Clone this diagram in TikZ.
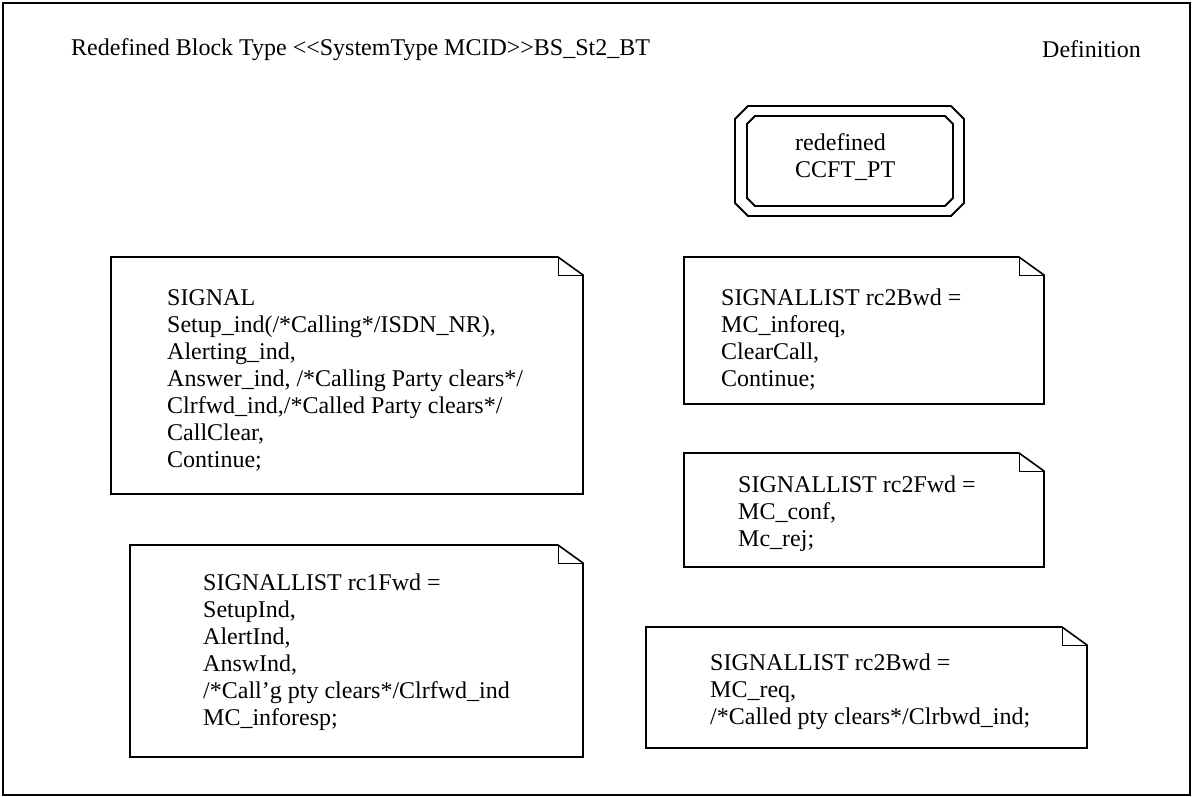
\documentclass[tikz,border=0pt]{standalone}
\usepackage{fontspec}
\setmainfont{Liberation Serif}
\usetikzlibrary{positioning}
\tikzset{
  frame/.style={line width=1.8pt},
  notebox/.style={line width=1.6pt, line join=miter},
  fold/.style={line width=0.8pt},
  blocktype/.style={line width=1.8pt, line join=miter},
  txt/.style={font=\fontsize{24}{27}\selectfont, inner sep=0pt, align=left, anchor=base west}
}
\begin{document}
\begin{tikzpicture}[x=1pt,y=-1pt]
  \useasboundingbox (0,0) rectangle (1192,796);
  \draw[frame] (3,3) rectangle (1190,795);
  \node[txt] (title) at (71,55) {Redefined Block Type <{}<SystemType MCID>{}>BS\_St2\_BT};
  \node[txt] (defn) at (1042,57) {Definition};
  % redefined process type, double octagon
  \draw[blocktype] (748,106) -- (951,106) -- (964,119) -- (964,203) -- (951,216)
    -- (748,216) -- (735,203) -- (735,119) -- cycle;
  \draw[blocktype] (755,116) -- (945,116) -- (953,124) -- (953,198) -- (945,206)
    -- (755,206) -- (747,198) -- (747,124) -- cycle;
  % multi-line nodes sit on the baseline of their last line
  \node[txt] (ccft) at (795,177) {redefined\\CCFT\_PT};
  % text symbols
  \foreach \xa/\ya/\xb/\yb in {111/257/583/494, 684/257/1044/404, 684/453/1044/567,
                               130/545/583/757, 646/627/1087/748}{
    \draw[notebox] (\xa,\ya) -- (\xb-25,\ya) -- (\xb,\ya+18) -- (\xb,\yb) -- (\xa,\yb) -- cycle;
    \draw[fold] (\xb-25,\ya) -- (\xb-25,\ya+18) -- (\xb,\ya+18);
  }
  \node[txt] (sig) at (167,467) {SIGNAL\\Setup\_ind(/*Calling*/ISDN\_NR),\\Alerting\_ind,\\
    Answer\_ind, /*Calling Party clears*/\\Clrfwd\_ind,/*Called Party clears*/\\CallClear,\\Continue;};
  \node[txt] (bwdone) at (721,386) {SIGNALLIST rc2Bwd =\\MC\_inforeq,\\ClearCall,\\Continue;};
  \node[txt] (fwdtwo) at (738,546) {SIGNALLIST rc2Fwd =\\MC\_conf,\\Mc\_rej;};
  \node[txt] (fwdone) at (203,725) {SIGNALLIST rc1Fwd =\\SetupInd,\\AlertInd,\\AnswInd,\\
    /*Call'g pty clears*/Clrfwd\_ind\\MC\_inforesp;};
  \node[txt] (bwdtwo) at (710,724) {SIGNALLIST rc2Bwd =\\MC\_req,\\/*Called pty clears*/Clrbwd\_ind;};
\end{tikzpicture}
\end{document}
